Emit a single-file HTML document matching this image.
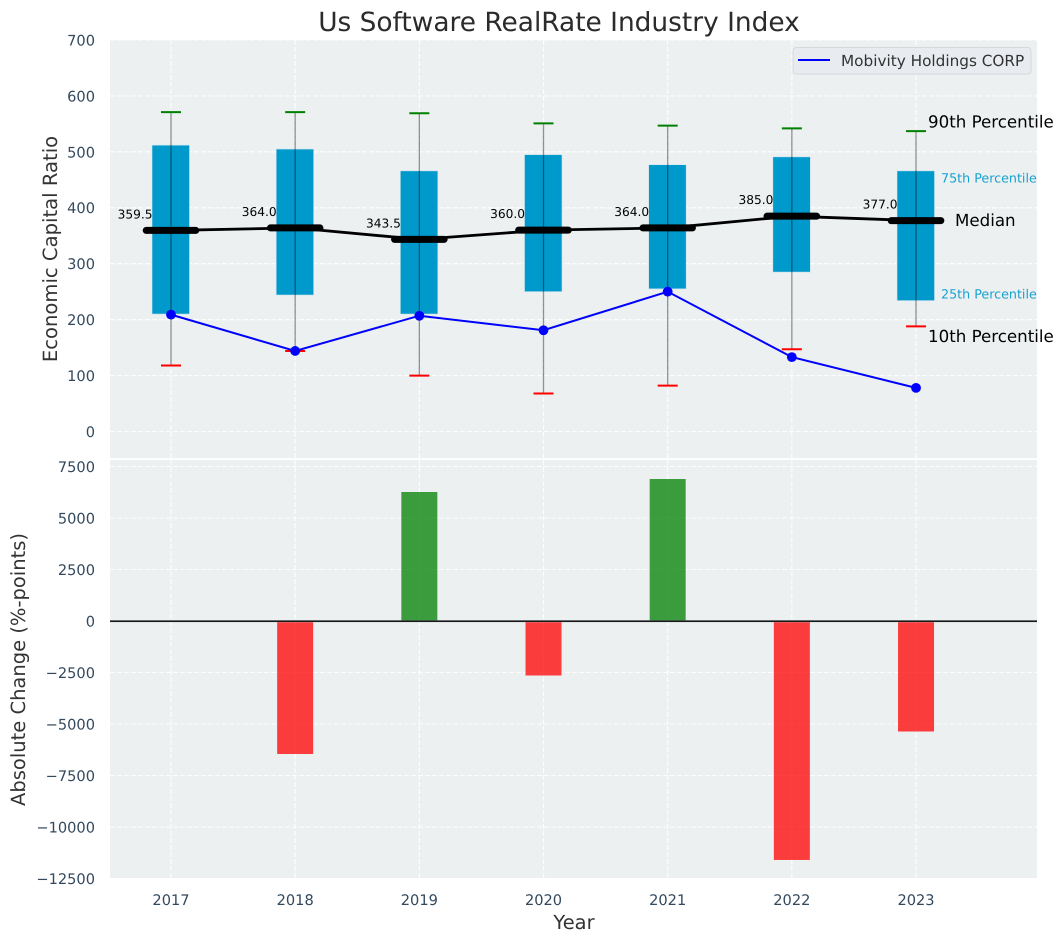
<!DOCTYPE html>
<html lang="en">
<head>
<meta charset="utf-8">
<title>Us Software RealRate Industry Index</title>
<style>
html,body{margin:0;padding:0;background:#fff;width:1063px;height:942px;overflow:hidden}
svg{display:block;font-family:"DejaVu Sans","Liberation Sans",sans-serif;text-rendering:geometricPrecision}
</style>
</head>
<body>
<svg id="chart" xmlns="http://www.w3.org/2000/svg" width="1063" height="942" viewBox="0 0 1063 942">
  <rect x="110" y="40" width="927" height="418.5" fill="#ecf0f1"/>
  <rect x="110" y="460" width="927" height="418" fill="#ecf0f1"/>
  <g id="grid"></g>
  <rect x="110" y="458.2" width="927" height="1.8" fill="#fff"/>
  <g id="bars"></g>
  <line x1="110" x2="1037" y1="621.2" y2="621.2" stroke="#b8bcc0" stroke-width="2"/>
  <line x1="110" x2="1037" y1="621.2" y2="621.2" stroke="#000" stroke-width="1.3"/>
  <g id="boxes"></g>
  <g id="medians"></g>
  <g id="company"></g>
  <g id="ticks" font-size="14.6" fill="#34495e"></g>
  <g id="annotations"></g>
  <text x="559" y="31" text-anchor="middle" font-size="26.4" fill="#2b2b2b">Us Software RealRate Industry Index</text>
  <text transform="translate(57,249) rotate(-90)" text-anchor="middle" font-size="19.6" fill="#333">Economic Capital Ratio</text>
  <text transform="translate(25,669.5) rotate(-90)" text-anchor="middle" font-size="19.5" fill="#333">Absolute Change (%-points)</text>
  <text x="574" y="929" text-anchor="middle" font-size="19.44" fill="#333">Year</text>
  <g>
    <rect x="793" y="47.5" width="238" height="26.5" rx="3" fill="#e8ebf0" stroke="#d5d8dc" stroke-width="1"/>
    <line x1="798" x2="830" y1="60" y2="60" stroke="#0000ff" stroke-width="2"/>
    <text x="841" y="66" font-size="15.28" fill="#333">Mobivity Holdings CORP</text>
  </g>
</svg>
<script>
const years = [2017, 2018, 2019, 2020, 2021, 2022, 2023];
const p10 = [118, 144, 100, 68, 82, 147, 188];
const p25 = [210, 244, 210, 250, 255, 285, 234];
const medianValues = [359.5, 364.0, 343.5, 360.0, 364.0, 385.0, 377.0];
const p75 = [512, 505, 466, 495, 477, 491, 466];
const p90 = [571, 571, 569, 551, 547, 542, 537];
const companyValues = [209, 144, 207, 181, 250, 133, 78];
const changeValues = [0, -6456, 6262, -2645, 6893, -11600, -5364];
const upperTicks = [0, 100, 200, 300, 400, 500, 600, 700];
const lowerTicks = [7500, 5000, 2500, 0, -2500, -5000, -7500, -10000, -12500];

const NS = 'http://www.w3.org/2000/svg';
const xPos = v => 171 + (v - 2017) * 124.17;
const yUp = v => 431.5 - v * 0.5593;
const yLow = v => 621 - v * 0.0206;

function make(parentId, tag, attrs, text) {
  const el = document.createElementNS(NS, tag);
  Object.keys(attrs).forEach(k => el.setAttribute(k, attrs[k]));
  if (text !== undefined) el.textContent = text;
  document.getElementById(parentId).appendChild(el);
  return el;
}
const dash = {stroke: '#fff', 'stroke-width': 1.1, 'stroke-dasharray': '5 2', opacity: 0.92};

upperTicks.forEach(t => {
  const g = make('grid', 'line', {x1: 110, x2: 1037, y1: yUp(t), y2: yUp(t), ...dash});
  
  
  const l = make('ticks', 'text', {x: 95, y: yUp(t) + 5.4, 'text-anchor': 'end'}, String(t));
  
  
});
lowerTicks.forEach(t => {
  const g = make('grid', 'line', {x1: 110, x2: 1037, y1: yLow(t), y2: yLow(t), ...dash});
  
  
  const l = make('ticks', 'text', {x: 95, y: yLow(t) + 5.4, 'text-anchor': 'end'}, String(t).replace('-', '\u2212'));
  
  
});

years.forEach((yr, i) => {
  const x = xPos(yr);
  const g1 = make('grid', 'line', {x1: x, x2: x, y1: 40, y2: 458.5, ...dash});
  
  
  const g2 = make('grid', 'line', {x1: x, x2: x, y1: 460, y2: 878, ...dash});
  
  
  const tl = make('ticks', 'text', {x: x, y: 905, 'text-anchor': 'middle'}, String(yr));
  
  

  const v = changeValues[i];
  if (v !== 0) {
    const bar = make('bars', 'rect', {
      x: x - 18, width: 36,
      y: Math.min(yLow(0), yLow(v)),
      height: Math.abs(yLow(v) - yLow(0)),
      fill: v > 0 ? '#008000' : '#ff0000', opacity: 0.75
    });
    
    
  }

  const box = make('boxes', 'rect', {
    x: x - 19, width: 37.5,
    y: yUp(p75[i]), height: yUp(p25[i]) - yUp(p75[i]),
    fill: '#0099cc', stroke: '#cfe6ef', 'stroke-width': 0.6
  });
  
  

  const wh = make('boxes', 'line', {x1: x, x2: x, y1: yUp(p90[i]), y2: yUp(p10[i]), stroke: '#000', 'stroke-opacity': 0.42, 'stroke-width': 1.3});
  
  

  const capHi = make('boxes', 'line', {x1: x - 10, x2: x + 10, y1: yUp(p90[i]), y2: yUp(p90[i]), stroke: '#008000', 'stroke-width': 2});
  
  

  const capLo = make('boxes', 'line', {x1: x - 10, x2: x + 10, y1: yUp(p10[i]), y2: yUp(p10[i]), stroke: '#ff0000', 'stroke-width': 2});
  
  

  const medBar = make('medians', 'line', {x1: x - 24.8, x2: x + 24.8, y1: yUp(medianValues[i]), y2: yUp(medianValues[i]), stroke: '#000', 'stroke-width': 7, 'stroke-linecap': 'round'});
  
  

  const medLabel = make('medians', 'text', {x: x - 18.5, y: yUp(medianValues[i]) - 12, 'text-anchor': 'end', 'font-size': 12.2, fill: '#000'}, medianValues[i].toFixed(1));
  
  
});

const medLine = make('medians', 'polyline', {
  points: years.map((yr, i) => xPos(yr) + ',' + yUp(medianValues[i])).join(' '),
  fill: 'none', stroke: '#000', 'stroke-width': 2.8
});



const compLine = make('company', 'polyline', {
  points: years.map((yr, i) => xPos(yr) + ',' + yUp(companyValues[i])).join(' '),
  fill: 'none', stroke: '#0000ff', 'stroke-width': 2
});



years.forEach((yr, i) => {
  const dot = make('company', 'circle', {cx: xPos(yr), cy: yUp(companyValues[i]), r: 4.9, fill: '#0000ff'});
  
  
});

const last = years.length - 1;
const a90 = make('annotations', 'text', {x: 928, y: yUp(p90[last]) - 3.7, 'font-size': 16.67, fill: '#000'}, '90th Percentile');


const a75 = make('annotations', 'text', {x: 941, y: yUp(p75[last]) + 11.5, 'font-size': 12.7, fill: '#0099cc', opacity: 0.9}, '75th Percentile');


const aMed = make('annotations', 'text', {x: 955, y: yUp(medianValues[last]) + 5.5, 'font-size': 16.67, fill: '#000'}, 'Median');


const a25 = make('annotations', 'text', {x: 941, y: yUp(p25[last]) - 2.3, 'font-size': 12.7, fill: '#0099cc', opacity: 0.9}, '25th Percentile');


const a10 = make('annotations', 'text', {x: 928, y: yUp(p10[last]) + 15.4, 'font-size': 16.67, fill: '#000'}, '10th Percentile');


</script>
</body>
</html>
